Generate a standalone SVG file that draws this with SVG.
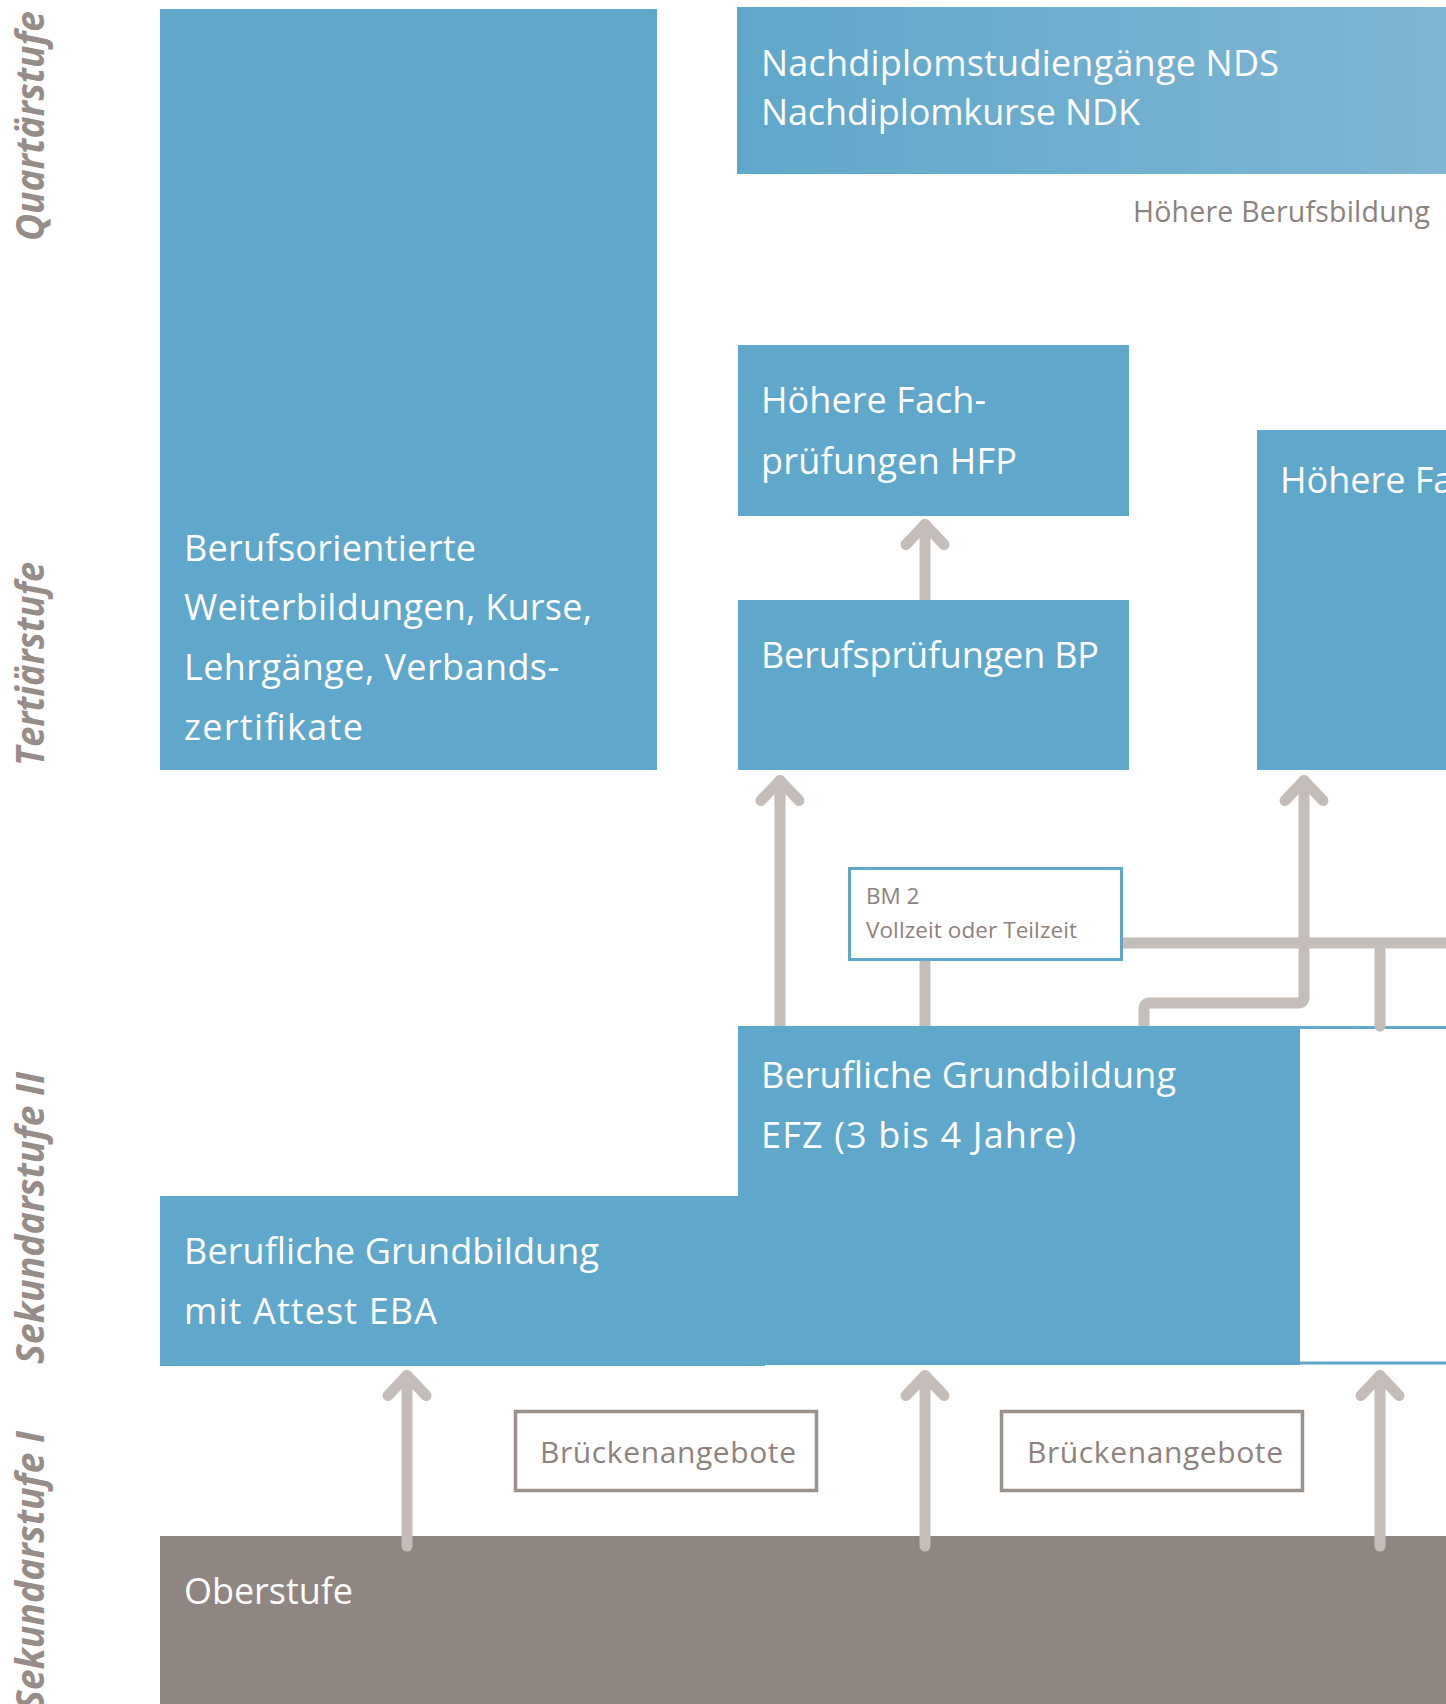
<svg xmlns="http://www.w3.org/2000/svg" width="1446" height="1704" viewBox="0 0 1446 1704">
<defs>
<linearGradient id="ndsGrad" x1="0" y1="0" x2="1" y2="0">
<stop offset="0" stop-color="#5fa7cb"/>
<stop offset="1" stop-color="#80b6d4"/>
</linearGradient>
<marker id="arrow" markerUnits="userSpaceOnUse" orient="auto" overflow="visible" markerWidth="60" markerHeight="60" refX="0" refY="0">
<path d="M -20,-19 L 0,0 L -20,19" fill="none" stroke="#c5bdb9" stroke-width="11" stroke-linecap="round" stroke-linejoin="round"/>
</marker>
<style>
.blue{fill:#5fa7cb}
.wt{fill:#ffffff;font-family:"Open Sans","Noto Sans",sans-serif;font-size:36px}
.lvl{fill:#968c88;font-family:"Open Sans","Noto Sans",sans-serif;font-size:40px;font-weight:bold;font-style:italic}
.gt{fill:#8d827e;font-family:"Open Sans","Noto Sans",sans-serif}
.con{fill:none;stroke:#c5bdb9;stroke-width:11;stroke-linecap:round;stroke-linejoin:round}
.arr{marker-end:url(#arrow)}
.bridge{fill:#ffffff;stroke:#9b918d;stroke-width:3.5}
</style>
</defs>
<rect width="1446" height="1704" fill="#ffffff"/>

<g id="levels">
<text class="lvl" transform="translate(44,241) rotate(-90)" textLength="230" lengthAdjust="spacingAndGlyphs">Quartärstufe</text>
<text class="lvl" transform="translate(44,766) rotate(-90)" textLength="204" lengthAdjust="spacingAndGlyphs">Tertiärstufe</text>
<text class="lvl" transform="translate(44,1364) rotate(-90)" textLength="292" lengthAdjust="spacingAndGlyphs">Sekundarstufe II</text>
<text class="lvl" transform="translate(44,1710) rotate(-90)" textLength="279" lengthAdjust="spacingAndGlyphs">Sekundarstufe I</text>
</g>

<g id="oberstufe">
<rect x="160" y="1536" width="1286" height="168" fill="#8f8581"/>
<text class="wt" x="184" y="1604" textLength="169">Oberstufe</text>
</g>

<g id="right-box">
<rect x="1298" y="1027.5" width="160" height="335.5" fill="#ffffff" stroke="#5fa7cb" stroke-width="3"/>
</g>

<g id="connectors">
<path class="con arr" d="M 925,600 L 925,524.5"/>
<path class="con arr" d="M 780,1026 L 780,780.5"/>
<path class="con" d="M 1144,1030 L 1144,1009 Q 1144,1003 1150,1003 L 1298,1003 Q 1304,1003 1304,997 L 1304,940"/>
<path class="con arr" d="M 1304,945 L 1304,780.5"/>
<path class="con" d="M 925,1026 L 925,955"/>
<path class="con" d="M 1120,943 L 1450,943"/>
<path class="con" d="M 1380,943 L 1380,1026"/>
<path class="con arr" d="M 407,1546 L 407,1375.5"/>
<path class="con arr" d="M 925,1546 L 925,1375.5"/>
<path class="con arr" d="M 1380,1546 L 1380,1375.5"/>
</g>

<g id="weiterbildungen">
<rect class="blue" x="160" y="9" width="497" height="761"/>
<text class="wt" x="184" y="561" textLength="292">Berufsorientierte</text>
<text class="wt" x="184" y="620" textLength="408">Weiterbildungen, Kurse,</text>
<text class="wt" x="184" y="680" textLength="375">Lehrgänge, Verbands-</text>
<text class="wt" x="184" y="740" textLength="179">zertifikate</text>
</g>

<g id="nds">
<rect x="737" y="7" width="709" height="167" fill="url(#ndsGrad)"/>
<text class="wt" x="761" y="76" textLength="518">Nachdiplomstudiengänge NDS</text>
<text class="wt" x="761" y="125" textLength="379">Nachdiplomkurse NDK</text>
</g>

<g id="hoehere-berufsbildung">
<text class="gt" x="1133" y="222" font-size="28.5" textLength="297">Höhere Berufsbildung</text>
</g>

<g id="hfp">
<rect class="blue" x="738" y="345" width="391" height="171"/>
<text class="wt" x="761" y="413" textLength="225">Höhere Fach-</text>
<text class="wt" x="761" y="474" textLength="256">prüfungen HFP</text>
</g>

<g id="bp">
<rect class="blue" x="738" y="600" width="391" height="170"/>
<text class="wt" x="761" y="668" textLength="338">Berufsprüfungen BP</text>
</g>

<g id="hf">
<rect class="blue" x="1257" y="430" width="189" height="340"/>
<text class="wt" x="1280" y="493">Höhere Fa</text>
</g>

<g id="bm2">
<rect x="849.5" y="868.5" width="272" height="91" fill="#ffffff" stroke="#5fa7cb" stroke-width="3"/>
<text class="gt" x="866" y="904" font-size="22.5">BM 2</text>
<text class="gt" x="866" y="938" font-size="22.5" textLength="211">Vollzeit oder Teilzeit</text>
</g>

<g id="eba">
<rect class="blue" x="160" y="1196" width="605" height="170"/>
<text class="wt" x="184" y="1264" textLength="415">Berufliche Grundbildung</text>
<text class="wt" x="184" y="1324" textLength="253">mit Attest EBA</text>
</g>

<g id="efz">
<rect class="blue" x="738" y="1026" width="562" height="339"/>
<text class="wt" x="761" y="1088" textLength="415">Berufliche Grundbildung</text>
<text class="wt" x="761" y="1148" textLength="315">EFZ (3 bis 4 Jahre)</text>
</g>

<g id="brueckenangebote-1">
<rect class="bridge" x="515.5" y="1411.5" width="301" height="79"/>
<text class="gt" x="540" y="1463" font-size="30" textLength="256">Brückenangebote</text>
</g>

<g id="brueckenangebote-2">
<rect class="bridge" x="1001.5" y="1411.5" width="301" height="79"/>
<text class="gt" x="1027" y="1463" font-size="30" textLength="256">Brückenangebote</text>
</g>
</svg>
